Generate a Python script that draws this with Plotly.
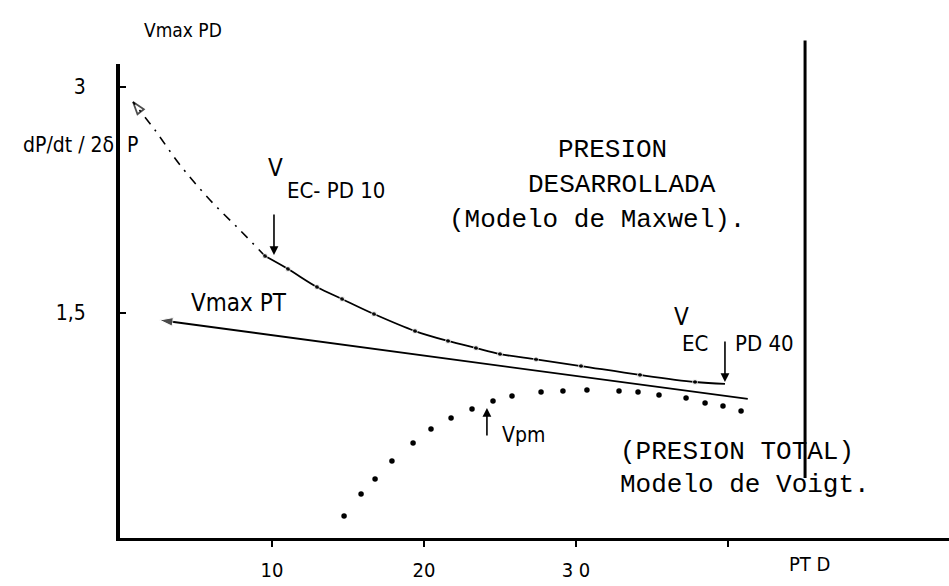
import plotly.graph_objects as go

# ---- data (PT D on x, Vmax on y) ----
pd_dash_x = [9.54, 7.89, 5.92, 3.95, 2.30, 0.86]
pd_dash_y = [1.876, 2.049, 2.249, 2.482, 2.714, 2.901]

pd_x = [9.54, 11.05, 12.96, 14.61, 16.71, 19.41, 21.58, 23.42, 25.0, 27.37, 30.33, 34.21, 37.83, 39.8]
pd_y = [1.876, 1.790, 1.670, 1.590, 1.490, 1.377, 1.311, 1.264, 1.224, 1.188, 1.144, 1.085, 1.038, 1.025]

pt_line_x = [41.3, 2.6]
pt_line_y = [0.925, 1.45]

voigt_x = [14.74, 15.86, 16.78, 17.89, 19.28, 20.46, 21.78, 23.16, 24.54, 25.79, 27.70,
           29.14, 30.72, 32.83, 34.08, 35.46, 37.24, 38.49, 39.67, 40.86]
voigt_y = [0.146, 0.293, 0.393, 0.512, 0.632, 0.725, 0.798, 0.858, 0.912, 0.945, 0.971,
           0.978, 0.985, 0.978, 0.971, 0.951, 0.931, 0.898, 0.878, 0.845]

limit_x = [45.07, 45.07]
limit_y = [0.40, 3.31]

x_tickvals = [10, 20, 30, 40]
x_ticktext = ["10", "20", "3 0", ""]
y_tickvals = [1.5, 3]
y_ticktext = ["1,5", "3"]

ec10_x, ec10_tip, ec10_tail = 10.13, 1.883, 2.162
ec40_x, ec40_tip, ec40_tail = 39.8, 1.038, 1.317
vpm_x, vpm_tip, vpm_tail = 24.14, 0.865, 0.672

# ---- layout geometry ----
W, H = 949, 586
ML, MR, MT, MB = 120, 0, 40, 48
px_x = 15.2
px_y = 150.3
plot_w = W - ML - MR
plot_h = H - MT - MB
x_max = plot_w / px_x
y2_max = plot_h / px_y
y_top_px = 64
y_dom_top = (H - MB - y_top_px) / plot_h
y_max = (H - MB - y_top_px) / px_y

SANS = "Liberation Sans Narrow, DejaVu Sans Condensed, Arial Narrow, sans-serif"
MONO = "Liberation Mono, Courier New, monospace"
BLK = "black"

fig = go.Figure()

# dashed extrapolated part of the developed-pressure curve (ends in an open arrow)
fig.add_trace(go.Scatter(
    x=pd_dash_x, y=pd_dash_y, mode="lines+markers", line_shape="spline",
    line=dict(color=BLK, width=1.6, dash="9px,7px,2px,7px"),
    marker=dict(symbol=["circle"] * (len(pd_dash_x) - 1) + ["arrow-open"],
                size=[0] * (len(pd_dash_x) - 1) + [13],
                angleref="previous", color=BLK, line=dict(color=BLK, width=1.8)),
    showlegend=False, hoverinfo="skip"))

# developed pressure (Maxwell) measured curve
fig.add_trace(go.Scatter(
    x=pd_x, y=pd_y, mode="lines+markers", line_shape="spline",
    line=dict(color=BLK, width=1.8),
    marker=dict(size=[5] * (len(pd_x) - 1) + [0], color=BLK),
    showlegend=False, hoverinfo="skip"))

# Vmax PT straight line with arrow
fig.add_trace(go.Scatter(
    x=pt_line_x, y=pt_line_y, mode="lines+markers",
    line=dict(color=BLK, width=1.8),
    marker=dict(symbol=["circle", "arrow"], size=[0, 14], angleref="previous", color=BLK),
    showlegend=False, hoverinfo="skip"))

# total pressure (Voigt) dotted curve
fig.add_trace(go.Scatter(
    x=voigt_x, y=voigt_y, mode="markers",
    marker=dict(size=5.5, color=BLK),
    showlegend=False, hoverinfo="skip"))

# right vertical line (taller subplot)
fig.add_trace(go.Scatter(
    x=limit_x, y=limit_y, mode="lines", yaxis="y2",
    line=dict(color=BLK, width=3),
    showlegend=False, hoverinfo="skip"))

ann = []

def txt(x, y, s, size, family=SANS, xanchor="center", ref="data"):
    xr, yr = ("x", "y") if ref == "data" else ("paper", "paper")
    ann.append(dict(x=x, y=y, xref=xr, yref=yr, text=s, showarrow=False,
                    xanchor=xanchor, yanchor="middle",
                    font=dict(family=family, size=size, color=BLK)))

def arrow(x, tip, tail):
    ann.append(dict(x=x, y=tip, ax=x, ay=tail, xref="x", yref="y", axref="x", ayref="y",
                    text="", showarrow=True, arrowhead=2, arrowsize=1.1, arrowwidth=1.6,
                    arrowcolor=BLK))

# labels outside the plotting area (paper coordinates)
txt(0.0760, 1.020, "Vmax PD", 19, ref="paper")
txt(-0.0048, 0.789, "dP/dt / 2δ", 21, xanchor="right", ref="paper")
txt(0.832, -0.052, "PT D", 20, ref="paper")

txt(0.33, 2.615, "P", 21, xanchor="left")
txt(10.2, 2.462, "V", 24)
txt(10.86, 2.315, "EC- PD 10", 22, xanchor="left")
txt(7.83, 1.564, "Vmax PT", 24)
txt(32.43, 2.581, "PRESION", 26, MONO)
txt(33.03, 2.349, "DESARROLLADA", 26, MONO)
txt(31.38, 2.116, "(Modelo de Maxwel).", 26, MONO)
txt(36.97, 1.470, "V", 24)
txt(37.83, 1.297, "EC", 22)
txt(40.33, 1.297, "PD 40", 22, xanchor="left")
txt(25.0, 0.685, "Vpm", 21, xanchor="left")
txt(32.76, 0.572, "(PRESION TOTAL)", 26, MONO, xanchor="left")
txt(32.76, 0.353, "Modelo de Voigt.", 26, MONO, xanchor="left")

arrow(ec10_x, ec10_tip, ec10_tail)
arrow(ec40_x, ec40_tip, ec40_tail)
arrow(vpm_x, vpm_tip, vpm_tail)

fig.update_layout(
    width=W, height=H,
    margin=dict(l=ML, r=MR, t=MT, b=MB, pad=0, autoexpand=False),
    paper_bgcolor="white", plot_bgcolor="rgba(0,0,0,0)",
    showlegend=False,
    annotations=ann,
    xaxis=dict(range=[0, x_max], showgrid=False, zeroline=False,
               showline=True, linecolor=BLK, linewidth=3,
               tickmode="array", tickvals=x_tickvals, ticktext=x_ticktext,
               ticks="outside", ticklen=6, tickwidth=2, tickcolor=BLK,
               ticklabelstandoff=6, automargin=False,
               tickfont=dict(family=SANS, size=20, color=BLK)),
    yaxis=dict(range=[0, y_max], domain=[0, y_dom_top], showgrid=False, zeroline=False,
               showline=True, linecolor=BLK, linewidth=4,
               tickmode="array", tickvals=y_tickvals, ticktext=y_ticktext,
               ticks="inside", ticklen=6, tickwidth=2, tickcolor=BLK,
               ticklabelstandoff=26, automargin=False,
               tickfont=dict(family=SANS, size=21, color=BLK)),
    yaxis2=dict(range=[0, y2_max], domain=[0, 1], anchor="x", visible=False,
                showgrid=False, zeroline=False),
)

fig.write_html("out.html", config={"displayModeBar": False},
               post_script="document.body.style.margin='0px';")
